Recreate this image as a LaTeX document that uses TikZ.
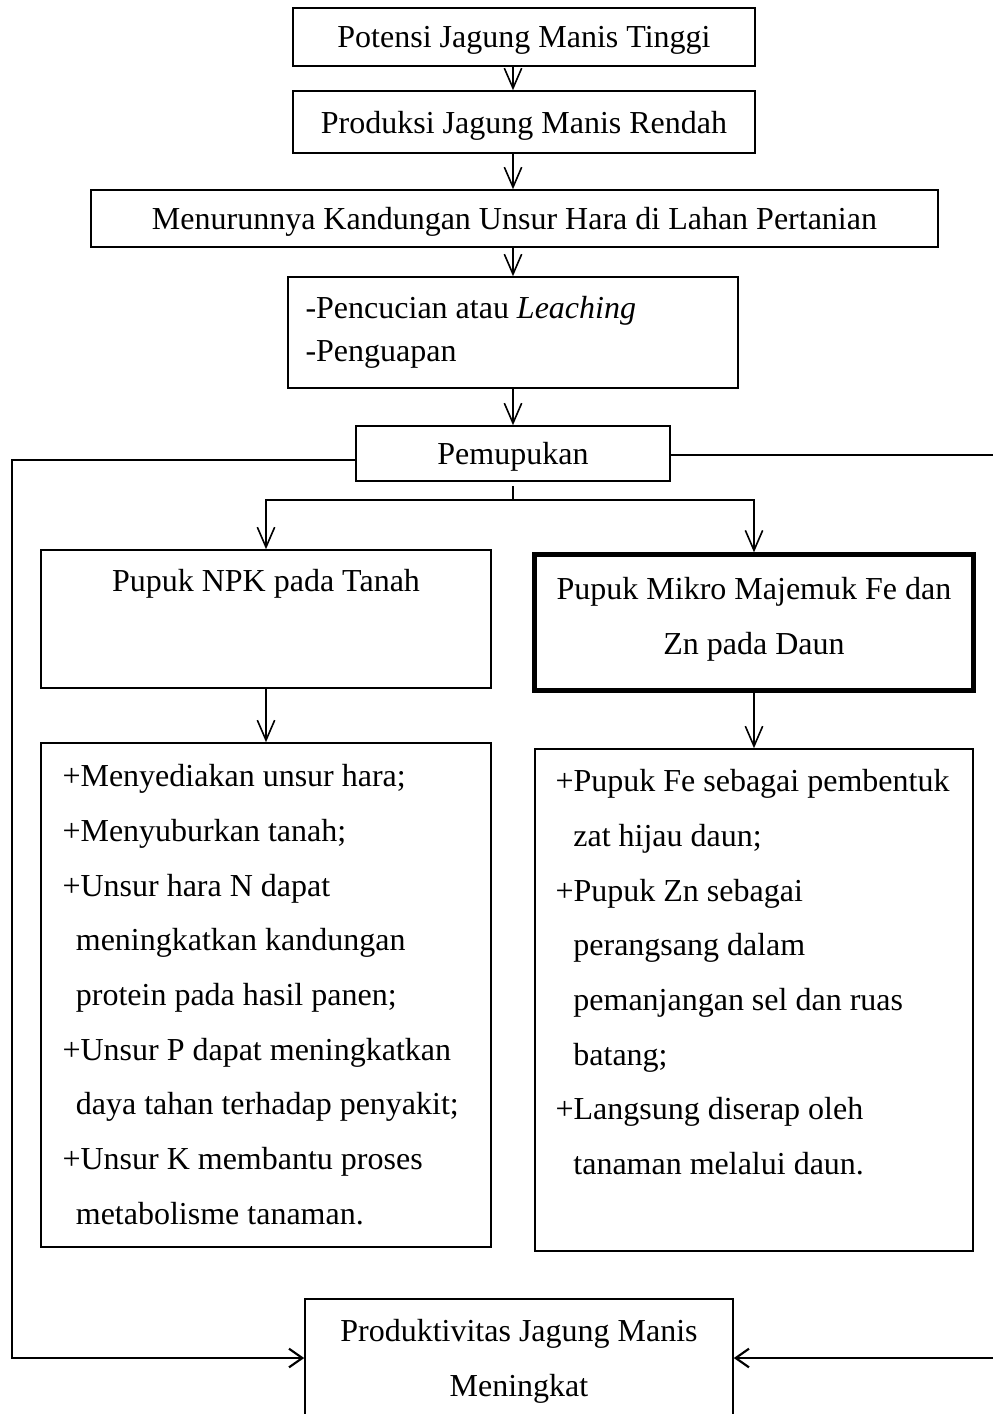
\documentclass[tikz,border=0pt]{standalone}
\usepackage{fontspec}
\setmainfont{Liberation Serif}
\usetikzlibrary{arrows.meta,positioning}
\newcommand\pxu{0.375pt}
\tikzset{
	box/.style={draw, line width=0.6pt, inner sep=0pt, text depth=0pt, font=\fontsize{12}{20.5}\selectfont},
	txt/.style={inner sep=0pt, font=\fontsize{12}{20.5}\selectfont},
	arr/.style={line width=0.6pt, -{Straight Barb[length=7.5pt,width=6.5pt,line width=0.6pt]}},
	fb/.style={line width=0.8pt, -{Straight Barb[length=5pt,width=7pt,line width=0.8pt]}}
}
\begin{document}
\begin{tikzpicture}[x=\pxu, y=-\pxu]
		%%%%% START %%%%%
		\useasboundingbox (0, 0) rectangle (993, 1414);
		
		\node[box, minimum width=462*\pxu, minimum height=58*\pxu] (potensi) at (524, 37) {Potensi Jagung Manis Tinggi};
		\node[box, minimum width=462*\pxu, minimum height=62*\pxu] (produksi) at (524, 122) {Produksi Jagung Manis Rendah};
		\node[box, minimum width=847*\pxu, minimum height=57*\pxu] (menurun) at (514.5, 218.5) {Menurunnya Kandungan Unsur Hara di Lahan Pertanian};
		\node[box, minimum width=450*\pxu, minimum height=111*\pxu] (sebab) at (513, 332.5) {};
		\node[txt, anchor=north west, align=left, font=\fontsize{12}{16.1}\selectfont] (sebabtxt) at (305, 296) {-Pencucian atau \textit{Leaching}\\-Penguapan};
		\node[box, minimum width=314*\pxu, minimum height=55*\pxu] (pupuk) at (513, 453.5) {Pemupukan};
		
		\node[box, minimum width=450*\pxu, minimum height=138*\pxu] (npk) at (266, 619) {};
		\node[txt, anchor=north] (npktxt) at (266, 569) {Pupuk NPK pada Tanah};
		\node[box, line width=1.6pt, minimum width=439*\pxu, minimum height=136*\pxu] (mikro) at (754, 622.5) {};
		\node[txt, anchor=north, align=center, font=\fontsize{12}{20.6}\selectfont] (mikrotxt) at (754, 577) {Pupuk Mikro Majemuk Fe dan\\Zn pada Daun};
		
		\node[box, minimum width=450*\pxu, minimum height=504*\pxu] (npkisi) at (266, 995) {};
		\node[txt, anchor=north west, align=left] (npkisitxt) at (62, 764) {+Menyediakan unsur hara;\\
			+Menyuburkan tanah;\\
			+Unsur hara N dapat\\
			\hspace*{5pt}meningkatkan kandungan\\
			\hspace*{5pt}protein pada hasil panen;\\
			+Unsur P dapat meningkatkan\\
			\hspace*{5pt}daya tahan terhadap penyakit;\\
			+Unsur K membantu proses\\
			\hspace*{5pt}metabolisme tanaman.};
		\node[box, minimum width=438*\pxu, minimum height=502*\pxu] (mikroisi) at (754, 1000) {};
		\node[txt, anchor=north west, align=left] (mikroisitxt) at (555, 769) {+Pupuk Fe sebagai pembentuk\\
			\hspace*{6.7pt}zat hijau daun;\\
			+Pupuk Zn sebagai\\
			\hspace*{6.7pt}perangsang dalam\\
			\hspace*{6.7pt}pemanjangan sel dan ruas\\
			\hspace*{6.7pt}batang;\\
			+Langsung diserap oleh\\
			\hspace*{6.7pt}tanaman melalui daun.};
		
		\node[box, align=center, font=\fontsize{12}{20.6}\selectfont, minimum width=428*\pxu, minimum height=118*\pxu] (hasil) at (519, 1358) {Produktivitas Jagung Manis\\Meningkat};
		
		% alur utama
		\draw[arr] (potensi.south -| pupuk) -- (produksi.north -| pupuk);
		\draw[arr] (produksi.south -| pupuk) -- (menurun.north -| pupuk);
		\draw[arr] (menurun.south -| pupuk) -- (sebab.north -| pupuk);
		\draw[arr] (sebab.south -| pupuk) -- (pupuk.north);
		
		% cabang pupuk
		\coordinate (cabang) at (513, 500);
		\draw[line width=0.6pt] ([yshift=-4*\pxu]pupuk.south) -- (cabang);
		\draw[arr] (cabang) -| (npk.north);
		\draw[arr] (cabang) -| (mikro.north);
		\draw[arr] (npk.south) -- (npkisi.north);
		\draw[arr] (mikro.south) -- (mikroisi.north);
		
		% umpan ke hasil
		\coordinate (kiri) at (12, 460);
		\coordinate (kanan) at (997, 455);
		\draw[fb] (kiri -| pupuk.west) -- (kiri) -- (kiri |- hasil) -- (hasil.west);
		\draw[fb] (kanan -| pupuk.east) -- (kanan) -- (kanan |- hasil) -- (hasil.east);
		%%%%% END %%%%%
	\end{tikzpicture}
\end{document}
